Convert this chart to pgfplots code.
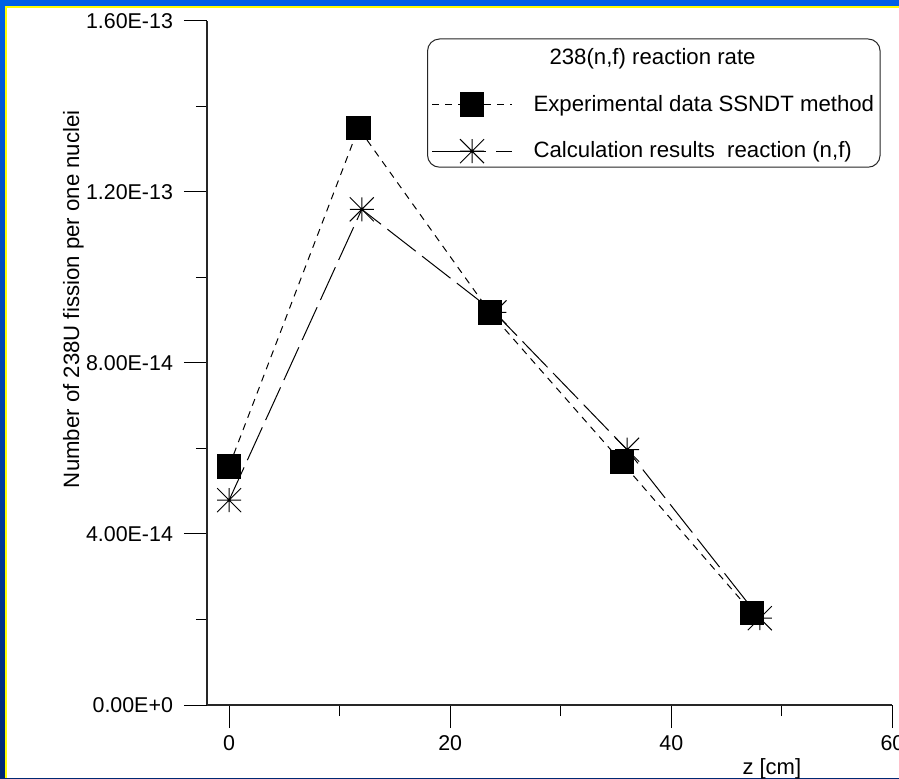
\documentclass[border=0pt]{standalone}
\usepackage{pgfplots}
\pgfplotsset{compat=1.18}
\usepackage{fontspec}
\setmainfont{Liberation Sans}
\definecolor{frameTop}{RGB}{0,95,230}
\definecolor{frameBot}{RGB}{0,40,115}
\definecolor{frameYel}{RGB}{255,255,0}
\pgfdeclareplotmark{ast8}{%
  \pgfpathmoveto{\pgfqpoint{-\pgfplotmarksize}{0pt}}%
  \pgfpathlineto{\pgfqpoint{\pgfplotmarksize}{0pt}}%
  \pgfpathmoveto{\pgfqpoint{0pt}{-\pgfplotmarksize}}%
  \pgfpathlineto{\pgfqpoint{0pt}{\pgfplotmarksize}}%
  \pgfpathmoveto{\pgfqpoint{-\pgfplotmarksize}{-\pgfplotmarksize}}%
  \pgfpathlineto{\pgfqpoint{\pgfplotmarksize}{\pgfplotmarksize}}%
  \pgfpathmoveto{\pgfqpoint{-\pgfplotmarksize}{\pgfplotmarksize}}%
  \pgfpathlineto{\pgfqpoint{\pgfplotmarksize}{-\pgfplotmarksize}}%
  \pgfusepathqstroke}
\pgfplotstableread{
z y
0 5.58e-14
11.7 1.349e-13
23.6 9.18e-14
35.5 5.68e-14
47.3 2.16e-14
}\expdata
\pgfplotstableread{
z y
0 4.79e-14
12 1.159e-13
24 9.18e-14
36 5.97e-14
48 2.03e-14
}\calcdata
\begin{document}
\begin{tikzpicture}
\path[use as bounding box] (-103.5pt,-36.5pt) rectangle (346pt,352.5pt);
\shade[top color=frameTop, bottom color=frameBot] (-103.5pt,-36.5pt) rectangle (346pt,352.5pt);
\fill[frameYel] (-101pt,-36.5pt) rectangle (346pt,349.5pt);
\fill[white] (-100pt,-36.5pt) rectangle (346pt,348.5pt);
\begin{axis}[
  at={(0pt,0pt)}, anchor=south west,
  scale only axis, width=342.75pt, height=342.15pt,
  xmin=-2, xmax=60, ymin=0, ymax=1.6e-13,
  axis lines=left, axis line style={-, line width=0.6pt, color=black!85},
  tick align=outside, tick style={line width=0.5pt, color=black},
  major tick length=11.5pt, minor tick length=5.5pt,
  xtick={0,20,40,60}, minor xtick={10,30,50},
  xticklabels={0,20,40,60},
  ytick={0,4e-14,8e-14,1.2e-13,1.6e-13},
  minor ytick={2e-14,6e-14,1e-13,1.4e-13},
  yticklabels={0.00E+0,4.00E-14,8.00E-14,1.20E-13,1.60E-13},
  /pgf/number format/assume math mode=true,
  tick label style={font=\fontsize{10.7}{12}\selectfont},
  yticklabel style={xshift=-2pt},
  every axis y label/.style={at={(axis description cs:-0.195,0.593)}, rotate=90, anchor=center},
  every axis x label/.style={at={(axis description cs:0.824,0)}, anchor=center, yshift=-32pt},
  ylabel style={font=\fontsize{11.1}{13}\selectfont},
  xlabel style={font=\fontsize{11}{13}\selectfont},
  xlabel={z [cm]},
  ylabel={Number of 238U fission per one nuclei},
  legend style={at={(axis description cs:0.321,0.974)}, anchor=north west,
    draw=black!85, line width=0.5pt, rounded corners=6pt, inner sep=2pt,
    font=\fontsize{11.1}{13}\selectfont, row sep=11.5pt, column sep=9.5pt,
    nodes={inner sep=1pt}},
  legend cell align=left,
  legend image code/.code={\draw[mark repeat=2,mark phase=2,#1] plot coordinates {(0pt,0pt) (20pt,0pt) (40pt,0pt)};},
]
\addlegendimage{empty legend}
\addlegendentry{\rule[-10pt]{0pt}{20pt}\hspace*{8pt}238(n,f) reaction rate}
\addplot[black, line width=0.5pt, dash pattern=on 3.5pt off 3pt, mark=square*, mark size=5.8pt, mark options={solid, sharp corners, fill=black}] table[x=z,y=y] {\expdata};
\addlegendentry{Experimental data SSNDT method}
\addplot[black, line width=0.5pt, dash pattern=on 18pt off 4pt, mark=ast8, mark size=6pt, mark options={solid, sharp corners}, legend image post style={dash pattern=on 27pt off 5pt}] table[x=z,y=y] {\calcdata};
\addlegendentry{Calculation results\ \ reaction (n,f)}
\addplot[forget plot, only marks, black, mark=square*, mark size=5.8pt, mark options={solid, sharp corners, fill=black}] table[x=z,y=y] {\expdata};
\end{axis}
\end{tikzpicture}
\end{document}
